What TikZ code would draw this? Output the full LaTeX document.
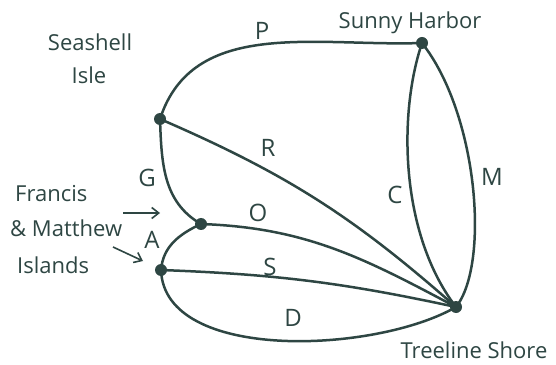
\documentclass[tikz,border=0pt]{standalone}
\usepackage{fontspec}
\setmainfont{Open Sans}
\usetikzlibrary{arrows.meta}
\definecolor{ink}{HTML}{2E4643}
\begin{document}
\begin{tikzpicture}[x=1pt,y=1pt,
  edge/.style={draw=ink,line width=2.5pt,line cap=round},
  vtx/.style={circle,fill=ink,inner sep=0pt,minimum size=12pt},
  lbl/.style={text=ink,font=\fontsize{24}{26}\selectfont,inner sep=0pt},
  place/.style={text=ink,font=\fontsize{22}{26}\selectfont,inner sep=0pt},
  pointer/.style={draw=ink,line width=1.6pt,-{Straight Barb[length=7pt,width=11pt]}}]
\useasboundingbox (0,0) rectangle (556,364);
\fill[white] (0,0) rectangle (556,364);
% vertices
\node[vtx] (sunny) at (422,321) {};
\node[vtx] (sea) at (160,245) {};
\node[vtx] (fra) at (201,140) {};
\node[vtx] (low) at (161,94) {};
\node[vtx] (tree) at (456,57) {};
% edges
\draw[edge] (sea.center) to[out=72,in=182] (sunny.center);
\draw[edge] (sea.center) to[bend left=9] (tree.center);
\draw[edge] (sea.center) to[out=-88,in=150] (fra.center);
\draw[edge] (fra.center) to[out=-2,in=152] (tree.center);
\draw[edge] (fra.center) to[out=205,in=85] (low.center);
\draw[edge] (low.center) to[bend left=5] (tree.center);
\draw[edge] (low.center) to[out=-88,in=210,looseness=0.8] (tree.center);
\draw[edge] (sunny.center) .. controls (398,250) and (400,130) .. (tree.center);
\draw[edge] (sunny.center) .. controls (478,250) and (490,100) .. (tree.center);
% edge labels
\node[lbl] (lp) at (262,333) {P};
\node[lbl] (lr) at (268,216) {R};
\node[lbl] (lg) at (147,186) {G};
\node[lbl] (lo) at (258,151) {O};
\node[lbl] (la) at (152,124) {A};
\node[lbl] (ls) at (270,97) {S};
\node[lbl] (ld) at (293,46) {D};
\node[lbl] (lc) at (395,169) {C};
\node[lbl] (lm) at (492,187) {M};
% place names
\node[place] (tsea1) at (90,322) {Seashell};
\node[place] (tsea2) at (89,289) {Isle};
\node[place] (tsunny) at (410,341) {Sunny Harbor};
\node[place,anchor=west] (tfra1) at (15,170) {Francis};
\node[place,anchor=west] (tfra2) at (10,136) {\& Matthew};
\node[place,anchor=west] (tfra3) at (17,99) {Islands};
\node[place] (ttree) at (474,14) {Treeline Shore};
% pointers
\coordinate (p1s) at (123,151);
\coordinate (p1e) at (160,151);
\coordinate (p2s) at (113,117);
\coordinate (p2e) at (143,103);
\draw[pointer] (p1s) -- (p1e);
\draw[pointer] (p2s) -- (p2e);
\end{tikzpicture}
\end{document}
